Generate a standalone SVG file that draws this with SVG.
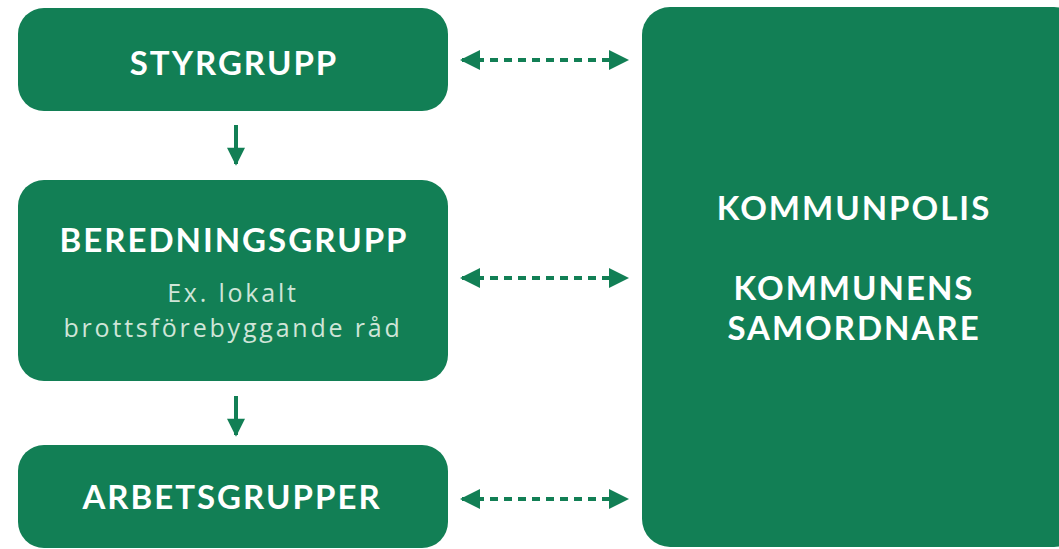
<svg xmlns="http://www.w3.org/2000/svg" width="1059" height="549" viewBox="0 0 1059 549">
<style>
.box{fill:#127f55}
.t{font-family:Lato,"Open Sans","Liberation Sans",sans-serif;font-weight:700;font-size:33px;letter-spacing:2px;fill:#ffffff;text-anchor:middle}
.s{font-family:"Open Sans","Liberation Sans",sans-serif;font-weight:400;font-size:25px;letter-spacing:2.8px;fill:#cfe5d8;text-anchor:middle}
.dash{stroke:#127f55;stroke-width:4;stroke-dasharray:8 6;fill:none}
.solid{stroke:#127f55;stroke-width:4;fill:none}
</style>
<defs>
<marker id="ah" viewBox="0 0 10 10" refX="9" refY="5" markerWidth="6" markerHeight="5" markerUnits="strokeWidth" orient="auto-start-reverse">
<path d="M0,0 L10,5 L0,10 Z" fill="#127f55"/>
</marker>
<marker id="av" viewBox="0 0 10 10" refX="9" refY="5" markerWidth="6" markerHeight="4.5" markerUnits="strokeWidth" orient="auto">
<path d="M0,0 L10,5 L0,10 Z" fill="#127f55"/>
</marker>
</defs>
<g id="styrgrupp">
<rect class="box" x="18" y="8" width="430" height="103" rx="26"/>
<text class="t" x="234" y="75">STYRGRUPP</text>
</g>
<g id="beredningsgrupp">
<rect class="box" x="18" y="180" width="430" height="201" rx="26"/>
<text class="t" x="234" y="252">BEREDNINGSGRUPP</text>
<text class="s" x="233" y="302">Ex. lokalt</text>
<text class="s" x="233" y="337">brottsförebyggande råd</text>
</g>
<g id="arbetsgrupper">
<rect class="box" x="18" y="445" width="430" height="103" rx="26"/>
<text class="t" x="232" y="509">ARBETSGRUPPER</text>
</g>
<g id="kommunpolis">
<rect class="box" x="642" y="7" width="440" height="540" rx="28"/>
<text class="t" x="854" y="220">KOMMUNPOLIS</text>
<text class="t" x="854" y="300">KOMMUNENS</text>
<text class="t" x="854" y="340">SAMORDNARE</text>
</g>
<g id="connectors">
<line class="dash" x1="462" y1="60" x2="627" y2="60" marker-start="url(#ah)" marker-end="url(#ah)"/>
<line class="dash" x1="462" y1="278" x2="627" y2="278" marker-start="url(#ah)" marker-end="url(#ah)"/>
<line class="dash" x1="462" y1="499" x2="627" y2="499" marker-start="url(#ah)" marker-end="url(#ah)"/>
<line class="solid" x1="236" y1="125" x2="236" y2="164" marker-end="url(#av)"/>
<line class="solid" x1="236" y1="396" x2="236" y2="435" marker-end="url(#av)"/>
</g>
</svg>
